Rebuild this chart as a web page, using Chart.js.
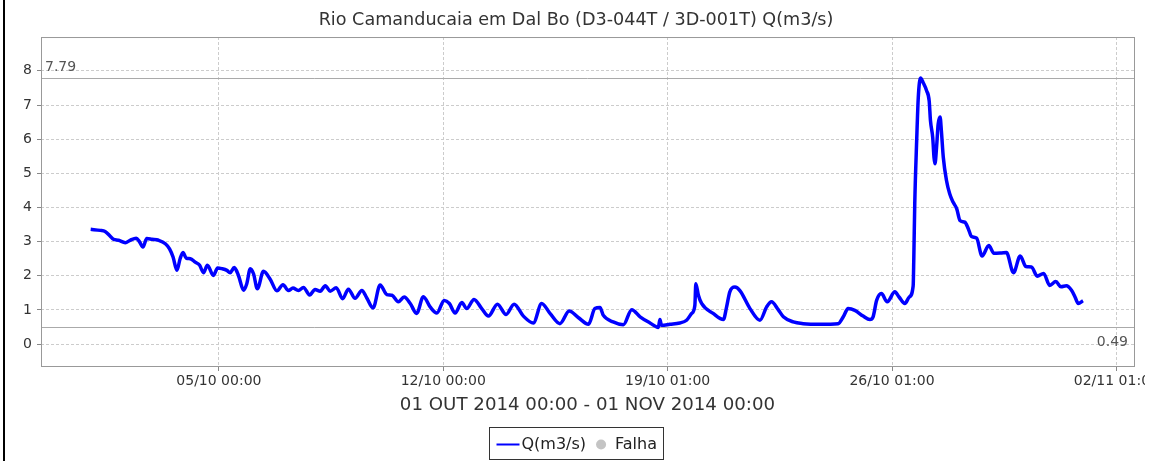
<!DOCTYPE html>
<html>
<head>
<meta charset="utf-8">
<title>Rio Camanducaia em Dal Bo</title>
<script src="https://cdn.jsdelivr.net/npm/chart.js@4.4.1/dist/chart.umd.min.js"></script>
<style>
    body { margin: 0; background: #fff; }
    #wrap { position: relative; width: 1162px; height: 461px; overflow: hidden; background: #fff; }
    #chart-container { position: absolute; left: 0; top: 0; }
    #edge { position: absolute; left: 3px; top: 0; width: 2px; height: 461px; background: #000; }
</style>
</head>
<body>
<div id="wrap">
    <canvas id="chart-container" width="1145" height="461"></canvas>
    <div id="edge"></div>
</div>
<script>
// time in days since 01 OUT 2014 00:00
const days = [0.00, 0.30, 0.45, 0.61, 0.71, 0.87, 1.08, 1.23, 1.42, 1.52, 1.63, 1.75, 1.91, 2.12, 2.33, 2.46, 2.57, 2.69, 2.79, 2.88,
    2.98, 3.11, 3.26, 3.40, 3.52, 3.64, 3.83, 3.96, 4.09, 4.25, 4.35, 4.48, 4.61, 4.77, 4.87, 4.98, 5.08, 5.20, 5.39, 5.60,
    5.81, 6.00, 6.17, 6.31, 6.48, 6.64, 6.83, 7.00, 7.16, 7.32, 7.47, 7.66, 7.86, 8.04, 8.25, 8.46, 8.61, 8.81, 9.03, 9.24,
    9.40, 9.60, 9.78, 9.97, 10.17, 10.38, 10.59, 10.80, 11.03, 11.19, 11.37, 11.58, 11.73, 11.96, 12.20, 12.41, 12.69, 12.96, 13.21, 13.50,
    13.81, 14.07, 14.33, 14.64, 14.93, 15.21, 15.53, 15.73, 15.89, 15.99, 16.30, 16.62, 16.88, 17.14, 17.45, 17.71, 17.76, 17.81, 18.07, 18.38,
    18.59, 18.75, 18.85, 18.88, 18.96, 19.06, 19.42, 19.74, 19.84, 19.94, 20.10, 20.26, 20.57, 20.88, 21.09, 21.24, 21.45, 21.61, 21.92, 22.23,
    22.75, 23.32, 23.48, 23.63, 23.84, 24.10, 24.31, 24.41, 24.52, 24.67, 24.85, 25.09, 25.22, 25.40, 25.54, 25.66, 25.68, 25.71, 25.77, 25.82,
    25.89, 25.97, 26.08, 26.16, 26.20, 26.27, 26.31, 26.34, 26.39, 26.44, 26.50, 26.54, 26.60, 26.70, 26.80, 26.91, 27.02, 27.12, 27.27, 27.38,
    27.48, 27.64, 27.81, 28.02, 28.18, 28.42, 28.57, 28.79, 29.00, 29.18, 29.35, 29.53, 29.73, 29.92, 30.11, 30.27, 30.44, 30.60, 30.71, 30.81,
    30.96];

const flow = [3.36, 3.33, 3.30, 3.16, 3.07, 3.04, 2.97, 3.04, 3.10, 3.00, 2.84, 3.09, 3.07, 3.04, 2.94, 2.79, 2.55, 2.16, 2.50, 2.68,
    2.52, 2.50, 2.40, 2.31, 2.09, 2.31, 2.01, 2.23, 2.21, 2.16, 2.09, 2.24, 2.01, 1.58, 1.77, 2.21, 2.06, 1.62, 2.13, 1.90,
    1.56, 1.74, 1.57, 1.64, 1.57, 1.66, 1.44, 1.60, 1.55, 1.71, 1.55, 1.65, 1.33, 1.61, 1.34, 1.57, 1.36, 1.06, 1.73, 1.45,
    1.43, 1.24, 1.38, 1.19, 0.90, 1.39, 1.09, 0.91, 1.28, 1.19, 0.91, 1.22, 1.04, 1.31, 1.04, 0.82, 1.17, 0.87, 1.17, 0.82,
    0.62, 1.19, 0.90, 0.60, 0.97, 0.78, 0.58, 1.04, 1.07, 0.85, 0.65, 0.57, 1.01, 0.80, 0.62, 0.49, 0.72, 0.55, 0.58, 0.62,
    0.70, 0.90, 1.14, 1.77, 1.43, 1.19, 0.90, 0.72, 1.09, 1.53, 1.67, 1.56, 1.04, 0.70, 1.09, 1.24, 1.01, 0.80, 0.65, 0.60,
    0.58, 0.60, 0.80, 1.04, 0.99, 0.82, 0.72, 0.80, 1.28, 1.48, 1.24, 1.53, 1.38, 1.19, 1.38, 1.70, 2.50, 4.11, 5.96, 7.22,
    7.79, 7.66, 7.42, 7.12, 6.54, 6.05, 5.47, 5.28, 5.76, 6.44, 6.65, 6.25, 5.47, 4.79, 4.40, 4.15, 3.96, 3.62, 3.57, 3.38,
    3.15, 3.10, 2.58, 2.89, 2.66, 2.67, 2.68, 2.09, 2.58, 2.27, 2.26, 1.99, 2.07, 1.72, 1.83, 1.68, 1.71, 1.58, 1.38, 1.19,
    1.27];

const tickDays = [4, 11, 18, 25, 32];
const tickLabels = ["05/10 00:00", "12/10 00:00", "19/10 01:00", "26/10 01:00", "02/11 01:00"];
const yTicks = [0, 1, 2, 3, 4, 5, 6, 7, 8];
const refLines = [7.79, 0.49];

const chartTitle = "Rio Camanducaia em Dal Bo (D3-044T / 3D-001T) Q(m3/s)";
const xTitle = "01 OUT 2014 00:00 - 01 NOV 2014 00:00";
const seriesName = "Q(m3/s)";
const gapName = "Falha";

const family = "'DejaVu Sans', sans-serif";

// plot frame plus the max / min reference lines
const framePlugin = {
    id: "frame",
    beforeDatasetsDraw(chart) {
        const ctx = chart.ctx;
        const a = chart.chartArea;
        const y = chart.scales.y;

        ctx.save();
        ctx.lineWidth = 1;
        ctx.strokeStyle = "#aaaaaa";
        ctx.fillStyle = "#555";
        ctx.font = "14px " + family;

        refLines.forEach(function (v, i) {
            const py = Math.round(y.getPixelForValue(v)) + 0.5;
            ctx.beginPath();
            ctx.moveTo(a.left, py);
            ctx.lineTo(a.right, py);
            ctx.stroke();

            ctx.textBaseline = "alphabetic";
            if (i === 0) {
                ctx.textAlign = "left";
                ctx.fillText(v.toFixed(2), a.left + 4, py - 8);
            } else {
                ctx.textAlign = "right";
                ctx.fillText(v.toFixed(2), a.right - 6, py + 18);
            }
        });

        ctx.strokeStyle = "#999999";
        ctx.strokeRect(a.left + 0.5, a.top + 0.5, a.right - a.left, a.bottom - a.top);
        ctx.restore();
    }
};

// boxed legend under the axis title
const legendPlugin = {
    id: "boxLegend",
    afterDraw(chart) {
        const ctx = chart.ctx;
        const t = chart.titleBlock;
        const cx = (t.left + t.right) / 2;

        ctx.save();
        ctx.font = "16px " + family;
        const w1 = ctx.measureText(seriesName).width;
        const w2 = ctx.measureText(gapName).width;
        const total = Math.round(7 + 23 + 2 + w1 + 10 + 10 + 9 + w2 + 6);
        const left = Math.round(cx - total / 2) + 0.5;
        const top = chart.height - 34 + 0.5;

        ctx.strokeStyle = "#333";
        ctx.lineWidth = 1;
        ctx.strokeRect(left, top, total, 32);

        const my = top + 17;
        let x = left + 7;
        ctx.strokeStyle = "#0000ff";
        ctx.lineWidth = 2;
        ctx.beginPath();
        ctx.moveTo(x, my);
        ctx.lineTo(x + 23, my);
        ctx.stroke();

        x += 25;
        ctx.fillStyle = "#222";
        ctx.textAlign = "left";
        ctx.textBaseline = "middle";
        ctx.fillText(seriesName, x, my);

        x += w1 + 10;
        ctx.fillStyle = "#c4c4c4";
        ctx.beginPath();
        ctx.arc(x + 5, my, 5, 0, Math.PI * 2);
        ctx.fill();

        x += 19;
        ctx.fillStyle = "#222";
        ctx.fillText(gapName, x, my);
        ctx.restore();
    }
};

function noPadding(s) {
    s.paddingLeft = 0;
    s.paddingRight = 0;
    s.paddingTop = 0;
    s.paddingBottom = 0;
}

function buildChart() {
    const ctx = document.getElementById("chart-container").getContext("2d");
    const points = days.map(function (d, i) {
        return { x: d, y: flow[i] };
    });
    const tickFont = { family: family, size: 14 };

    new Chart(ctx, {
        type: "line",
        data: {
            datasets: [
                {
                    label: seriesName,
                    data: points,
                    borderColor: "#0000ff",
                    borderWidth: 3.5,
                    pointRadius: 0,
                    fill: false,
                    cubicInterpolationMode: "monotone",
                },
            ],
        },
        options: {
            responsive: false,
            animation: false,
            layout: { padding: { left: 18, right: 11, top: 0, bottom: 0 }, autoPadding: false },
            plugins: {
                legend: { display: false },
                tooltip: { enabled: false },
                title: {
                    display: true,
                    text: chartTitle,
                    color: "#333",
                    font: { family: family, size: 17.6, weight: "normal" },
                    padding: { top: 10, bottom: 5.9 },
                },
            },
            scales: {
                x: {
                    type: "linear",
                    min: -1.55,
                    max: 32.55,
                    afterFit: function (s) {
                        s.height = 95;
                        noPadding(s);
                    },
                    afterBuildTicks: function (s) {
                        s.ticks = tickDays.map(function (v) { return { value: v }; });
                    },
                    ticks: {
                        callback: function (value, index) { return tickLabels[index]; },
                        autoSkip: false,
                        maxRotation: 0,
                        minRotation: 0,
                        padding: 2,
                        color: "#333",
                        font: tickFont,
                    },
                    grid: { color: "#cccccc", tickLength: 5, tickColor: "#888" },
                    border: { display: false, dash: [3, 2] },
                    title: {
                        display: true,
                        text: xTitle,
                        color: "#333",
                        font: { family: family, size: 18.2 },
                        padding: { top: 0, bottom: 45 },
                    },
                },
                y: {
                    min: -0.64,
                    max: 8.99,
                    afterFit: function (s) {
                        s.width = 23;
                        noPadding(s);
                    },
                    afterBuildTicks: function (s) {
                        s.ticks = yTicks.map(function (v) { return { value: v }; });
                    },
                    ticks: { padding: 5, color: "#333", font: tickFont },
                    grid: { color: "#cccccc", tickLength: 4, tickColor: "#888" },
                    border: { display: false, dash: [3, 2] },
                },
            },
        },
        plugins: [framePlugin, legendPlugin],
    });
}

document.addEventListener("DOMContentLoaded", function () {
    buildChart();
});
</script>
</body>
</html>
